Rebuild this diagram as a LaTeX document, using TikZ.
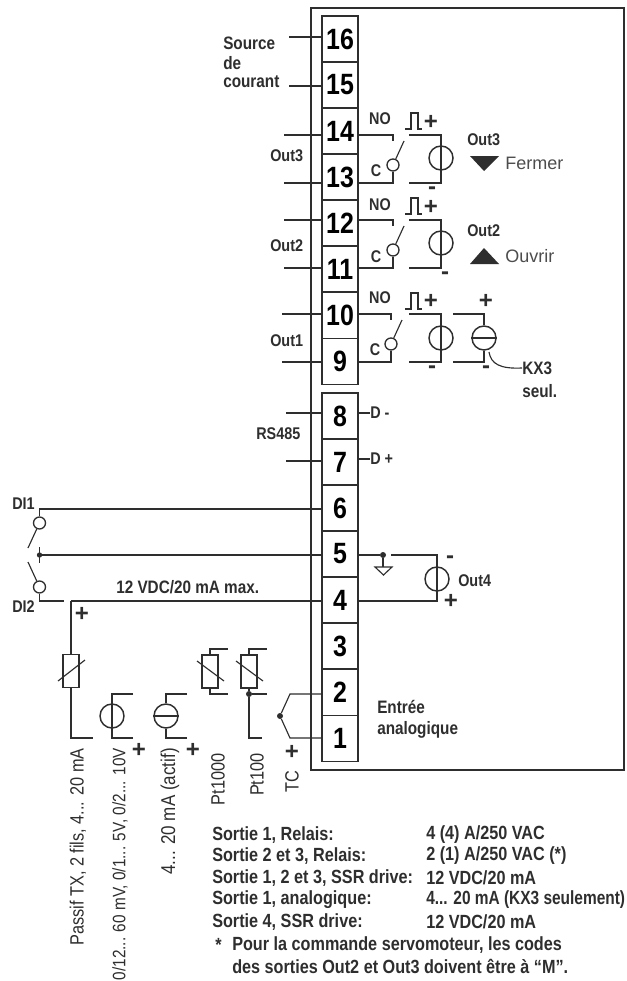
\documentclass[tikz,border=0pt]{standalone}
\usepackage{fontspec}
\setmainfont{Liberation Sans}
\newfontfamily\cnd[FakeStretch=0.85]{Liberation Sans}
\newfontfamily\cndn[FakeStretch=0.81]{Liberation Sans}
\usetikzlibrary{calc}
\definecolor{ink}{HTML}{2E2E2E}
\tikzset{
 x=0.75pt,y=-0.75pt,
 wire/.style={draw=ink,line width=0.85pt},
 frame/.style={draw=ink,line width=1.9pt},
 term/.style={draw=ink,line width=1pt,minimum width=27pt,minimum height=34.5pt,inner sep=0pt,font=\cnd\fontsize{22}{22}\selectfont\bfseries,text=black},
 lab/.style={inner sep=0pt,anchor=west,text=ink,font=\cnd\fontsize{13.5}{14}\selectfont\bfseries},
 labo/.style={lab,font=\cnd\fontsize{12.7}{14}\selectfont\bfseries},
 labc/.style={lab,anchor=center,font=\cnd\fontsize{12.7}{14}\selectfont\bfseries},
 sign/.style={inner sep=0pt,text=ink,font=\fontsize{18}{18}\selectfont\bfseries},
 plain/.style={inner sep=0pt,text=ink!85,font=\fontsize{13.5}{14}\selectfont},
 vert/.style={inner sep=0pt,text=ink,rotate=90,anchor=east,font=\cnd\fontsize{14.4}{15}\selectfont},
 src/.style={circle,draw=ink,line width=1.1pt,minimum size=18pt,inner sep=0pt},
 contact/.style={circle,draw=ink,line width=1pt,fill=white,minimum size=9pt,inner sep=0pt},
 res/.style={draw=ink,line width=1.1pt,minimum width=12pt,minimum height=25pt,inner sep=0pt},
 dotn/.style={circle,fill=ink,minimum size=4.5pt,inner sep=0pt},
 note/.style={inner sep=0pt,anchor=west,text=ink,font=\cnd\fontsize{14.3}{15}\selectfont\bfseries},
}
\newcommand{\pulse}[2]{\draw[wire] (#1,#2+16)--(#1+6,#2+16)--(#1+6,#2)--(#1+13,#2)--(#1+13,#2+16)--(#1+17,#2+16);}
\begin{document}
\begin{tikzpicture}
\useasboundingbox (0,0) rectangle (627,981);
\path[fill=white] (0,0) rectangle (627,981);
\node[frame,minimum width=234.75pt,minimum height=571.5pt,inner sep=0pt] (box) at (467.5,389) {};
% terminals
\node[term,minimum height=34.5pt] (t16) at (340,39) {16};
\node[term] (t15) at (340,85) {15};
\node[term] (t14) at (340,131) {14};
\node[term] (t13) at (340,177) {13};
\node[term] (t12) at (340,223) {12};
\node[term] (t11) at (340,269) {11};
\node[term] (t10) at (340,315.5) {10};
\node[term] (t9) at (340,361.5) {9};
\node[term] (t8) at (340,416) {8};
\node[term] (t7) at (340,462) {7};
\node[term] (t6) at (340,508) {6};
\node[term] (t5) at (340,554) {5};
\node[term] (t4) at (340,600) {4};
\node[term] (t3) at (340,646) {3};
\node[term] (t2) at (340,692.5) {2};
\node[term] (t1) at (340,738.5) {1};
% outer stubs
\foreach \n/\y/\x in {t16/37/289,t15/86/289,t14/135/284,t13/183/284,t12/220/284,t11/268/284,t10/314/282,t9/362/282,t8/413/286,t7/461/286}{
 \coordinate (s\n) at (\x,\y);
 \draw[wire] (s\n)--(s\n-|\n.west);
}
\node[lab] (lsrc1) at (223,43) {Source};
\node[lab] (lsrc2) at (223,63) {de};
\node[lab] (lsrc3) at (223,82) {courant};
\node[labo] (lo3) at (270,156) {Out3};
\node[labo] (lo2) at (270,246) {Out2};
\node[labo] (lo1) at (270,341) {Out1};
\node[labo] (lrs) at (256,434) {RS485};
% relay outputs
\foreach \i/\yt/\yb/\xs/\yc/\ys in {3/135/183/393/158/165,2/220/268/393/243/250,1/314/362/391/338/344}{
 \coordinate (no\i) at (\xs,\yt);
 \coordinate (nc\i) at (\xs,\yb);
 \coordinate (ra\i) at (409,\yt);
 \coordinate (rb\i) at (409,\yb);
 \coordinate (rc\i) at (441,\yt);
 \coordinate (rd\i) at (441,\yb);
 \node[contact] (k\i) at (\xs,\ys) {};
 \node[src] (o\i) at (441,\yc) {};
 \draw[wire] (358,\yt)--(no\i)--++(0,6);
 \draw[wire] (358,\yb)--(nc\i)--(k\i);
 \draw[wire] (k\i)--++(11,-24);
 \draw[wire] (ra\i)--(rc\i)--(o\i.north);
 \draw[wire] (rb\i)--(rd\i)--(o\i.south);
 \draw[wire] (o\i.north)--(o\i.south);
}
\pulse{405}{113}\pulse{405}{198}\pulse{405}{293}
\node[labc] (no14) at (380,119) {NO};
\node[labc] (no12) at (380,205) {NO};
\node[labc] (no10) at (380,298) {NO};
\node[labc] (c13) at (376,171) {C};
\node[labc] (c11) at (376,257) {C};
\node[labc] (c9) at (375,350) {C};
\node[sign] (p3) at (431,122) {+};
\node[sign] (m3) at (432,191) {-};
\node[sign] (p2) at (431,207) {+};
\node[sign] (m2) at (445,276) {-};
\node[sign] (p1) at (431,301) {+};
\node[sign] (m1) at (432,370) {-};
\node[labo] (lo3b) at (467,140) {Out3};
\node[labo] (lo2b) at (467,231) {Out2};
\fill[ink] (470,156)--(499,156)--(484,171)--cycle;
\fill[ink] (470,264)--(499,264)--(484,248)--cycle;
\node[plain,anchor=west] (fer) at (505,163) {Fermer};
\node[plain,anchor=west] (ouv) at (505,256) {Ouvrir};
% current output KX3
\node[src] (ka) at (484,338) {};
\coordinate (ka1) at (453,314);
\coordinate (ka2) at (453,362);
\draw[wire] (ka1)-|(ka.north);
\draw[wire] (ka2)-|(ka.south);
\draw[wire] (ka.west)--(ka.east);
\node[sign] (kp) at (486,301) {+};
\node[sign] (km) at (486,370) {-};
\node[lab] (kx) at (522,368) {KX3};
\node[lab] (ks) at (522,391) {seul.};
\draw[wire] (489,352) .. controls (491,364) and (500,369) .. (kx.west);
% RS485
\node[labo] (dm) at (370,413) {D -};
\node[labo] (dp) at (370,459) {D +};
\draw[wire] (358,413)--(dm.west);
\draw[wire] (358,459)--(dp.west);
% digital inputs
\node[labo] (di1) at (12,504) {DI1};
\node[labo] (di2) at (12,607) {DI2};
\node[contact] (c1) at (39.5,523) {};
\node[contact] (c2) at (39.5,587) {};
\node[dotn,minimum size=4pt] (cm) at (39.5,555) {};
\draw[wire] (c1)--(39.5,509)--(t6.west|-0,509);
\draw[wire] (cm)--(t5.west|-0,555);
\draw[wire] (39.5,547)--(39.5,563);
\draw[wire] (c1)--(28,548);
\draw[wire] (c2)--(28,562);
\coordinate (g1) at (64,601);
\draw[wire] (c2)--(39.5,601)--(g1);
\coordinate (g2) at (71,601);
\draw[wire] (g2)--(t4.west|-0,601);
\node[lab] (vdc) at (116,587) {12 VDC/20 mA max.};
\node[sign] (pg) at (82,614) {+};
% Out4
\node[dotn] (gd) at (383,555) {};
\node[src] (o4) at (437,579) {};
\draw[wire] (358,555)--(gd);
\draw[wire] (391,555)--(437,555)--(o4.north);
\draw[wire] (o4.north)--(o4.south);
\draw[wire] (o4.south)--(437,601)--(358,601);
\draw[wire] (gd)--(383,567);
\draw[wire] (375,567)--(392,567)--(383.5,575)--cycle;
\node[sign] (m4) at (450,560) {-};
\node[sign] (p4) at (451,601) {+};
\node[labo] (lo4) at (458,581) {Out4};
% passive TX
\node[res] (r1) at (71,671) {};
\draw[wire] (g2)--(r1.north);
\draw[wire] (r1.south)--(71,738)--(93,738);
\draw[wire] (58,681)--(85,660);
% voltage
\node[src] (v) at (112,716) {};
\draw[wire] (133,694)-|(v.north);
\draw[wire] (133,738)-|(v.south);
\draw[wire] (v.north)--(v.south);
\node[sign] (pv) at (139,750) {+};
% mA
\node[src] (a) at (166,716) {};
\draw[wire] (187,694)-|(a.north);
\draw[wire] (187,738)-|(a.south);
\draw[wire] (a.west)--(a.east);
\node[sign] (pa) at (193,750) {+};
% Pt1000
\node[res] (r2) at (210,671.5) {};
\draw[wire] (r2.north)--(210,649)--(228,649);
\draw[wire] (r2.south)--(210,694)--(228,694);
\draw[wire] (197,661)--(224,681);
% Pt100
\node[res] (r3) at (249,671.5) {};
\node[dotn] (d3) at (249,694) {};
\draw[wire] (r3.north)--(249,649)--(267,649);
\draw[wire] (r3.south)--(d3)--(267,694);
\draw[wire] (d3)--(249,738)--(262,738);
\draw[wire] (236,661)--(263,681);
% TC
\node[dotn] (tc) at (280,716) {};
\draw[wire] (t2.west|-0,694)--(290,694)--(tc);
\draw[wire] (t1.west|-0,738)--(290,738)--(tc);
\node[sign] (ptc) at (292,752) {+};
\node[lab] (ent1) at (377,707) {Entrée};
\node[lab] (ent2) at (377,730) {analogique};
% rotated
\node[vert] (v1) at (78,748) {Passif TX, 2 fils, 4... 20 mA};
\node[vert,font=\cnd\fontsize{13.5}{15}\selectfont] (v2) at (120,748) {0/12... 60 mV, 0/1... 5V, 0/2... 10V};
\node[vert,font=\cnd\fontsize{15}{15}\selectfont] (v3) at (170,748) {4... 20 mA (actif)};
\node[vert] (v4) at (218,753) {Pt1000};
\node[vert] (v5) at (257,753) {Pt100};
\node[vert] (v6) at (292,770) {TC};
% notes
\node[note] (n1) at (212,835) {Sortie 1, Relais:};
\node[note] (n2) at (212,856) {Sortie 2 et 3, Relais:};
\node[note] (n3) at (212,878) {Sortie 1, 2 et 3, SSR drive:};
\node[note] (n4) at (212,900) {Sortie 1, analogique:};
\node[note] (n5) at (212,922) {Sortie 4, SSR drive:};
\node[note] (n6) at (215,945) {*};
\node[note] (n7) at (232,945) {Pour la commande servomoteur, les codes};
\node[note] (n8) at (232,966) {des sorties Out2 et Out3 doivent être à “M”.};
\node[note] (m1x) at (426,835) {4 (4) A/250 VAC};
\node[note] (m2x) at (426,856) {2 (1) A/250 VAC (*)};
\node[note] (m3x) at (426,878) {12 VDC/20 mA};
\node[note,font=\cndn\fontsize{14.3}{15}\selectfont\bfseries] (m4x) at (426,900) {4... 20 mA (KX3 seulement)};
\node[note] (m5x) at (426,922) {12 VDC/20 mA};
\end{tikzpicture}
\end{document}
